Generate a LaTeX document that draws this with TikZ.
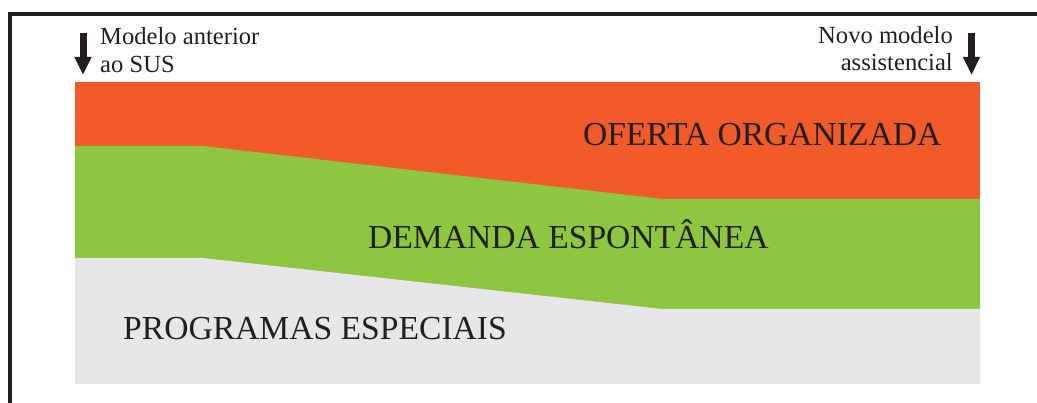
\documentclass[tikz,border=0pt]{standalone}
\usepackage{fontspec}
\setmainfont{Liberation Serif}
\usepackage{xcolor}
\usepackage{tikz}
\usetikzlibrary{arrows.meta}
\definecolor{oferta}{HTML}{F15A29}
\definecolor{demanda}{HTML}{8DC63F}
\definecolor{programas}{HTML}{E6E7E8}
\definecolor{ink}{HTML}{231F20}
\tikzstyle{band} = [draw=none]
\tikzstyle{bandlabel} = [inner sep=0pt,anchor=base west,text=ink,font=\fontsize{33.6}{36}\selectfont]
\tikzstyle{side} = [inner sep=0pt,text=ink,font=\fontsize{24.6}{27.5}\selectfont]
\tikzstyle{down} = [-{Triangle[width=16pt,length=18pt]},line width=7pt,draw=ink]

\begin{document}
\begin{tikzpicture}[x=1pt,y=-1pt]
        \useasboundingbox (0,0) rectangle (1037,403);
        % frame
        \draw[line width=4pt,draw=ink] (10,403) |- (1037,14.5);
        % the three bands
        \fill[band,oferta] (75,82) rectangle (980,384);
        \fill[band,demanda] (75,146) -- (203,146) -- (663,199) -- (980,199)
            -- (980,309) -- (663,309) -- (203,258) -- (75,258) -- cycle;
        \fill[band,programas] (75,258) -- (203,258) -- (663,309) -- (980,309)
            -- (980,384) -- (75,384) -- cycle;
        \node[bandlabel] (oferta) at (583,145.3) {OFERTA ORGANIZADA};
        \node[bandlabel] (demanda) at (368,248.3) {DEMANDA ESPONTÂNEA};
        \node[bandlabel] (programas) at (123,340) {PROGRAMAS ESPECIAIS};
        % top labels
        \node[side,anchor=north west,align=left] (anterior) at (100,27.5) {Modelo anterior\\ao SUS};
        \node[side,anchor=north east,align=right] (novo) at (953,26) {Novo modelo\\assistencial};
        \coordinate (a-top) at (83,33);
        \coordinate (a-tip) at (83,75);
        \coordinate (n-top) at (971.5,33);
        \coordinate (n-tip) at (971.5,75);
        \draw[down] (a-top) -- (a-tip);
        \draw[down] (n-top) -- (n-tip);
    \end{tikzpicture}
\end{document}
